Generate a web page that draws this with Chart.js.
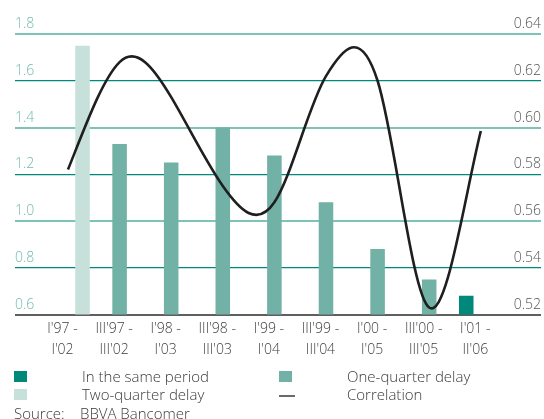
<!DOCTYPE html>
<html>
<head>
<meta charset="utf-8">
<script src="https://cdn.jsdelivr.net/npm/chart.js@4/dist/chart.umd.min.js"></script>
<style>
  html, body { margin: 0; padding: 0; background: #fff; }
  #wrap { position: relative; width: 544px; height: 419px; overflow: hidden;
          font-family: "Open Sans", "Liberation Sans", sans-serif; font-weight: 300; }
  #chart { position: absolute; left: 0; top: 0; }
  .lg { position: absolute; font-size: 15px; line-height: 18px; color: #3a3a3a; white-space: nowrap; }
  .sw { position: absolute; width: 13px; height: 11px; }
  .dash { position: absolute; width: 16px; height: 2px; background: #6a6a6a; }
</style>
</head>
<body>
<div id="wrap">
  <canvas id="chart" width="544" height="419"></canvas>

  <div class="sw" style="left:14px;top:371px;background:#00897b"></div>
  <div class="lg" style="left:82px;top:367px">In the same period</div>
  <div class="sw" style="left:279px;top:371px;background:#72b1a5"></div>
  <div class="lg" style="left:347px;top:367px">One-quarter delay</div>

  <div class="sw" style="left:14px;top:389px;background:#c8e0da"></div>
  <div class="lg" style="left:82px;top:385px">Two-quarter delay</div>
  <div class="dash" style="left:279px;top:395px"></div>
  <div class="lg" style="left:347px;top:385px">Correlation</div>

  <div class="lg" style="left:14px;top:404px">Source:</div>
  <div class="lg" style="left:80px;top:404px">BBVA Bancomer</div>
</div>

<script>
// Periods compared (one column per window)
const periods = [
  ["I'97 -", "I'02"], ["III'97 -", "III'02"], ["I'98 -", "I'03"],
  ["III'98 -", "III'03"], ["I'99 -", "I'04"], ["III'99 -", "III'04"],
  ["I'00 -", "I'05"], ["III'00 -", "III'05"], ["I'01 -", "II'06"]
];

// Elasticity by lag (left axis)
const samePeriod      = [null, null, null, null, null, null, null, null, 0.68];
const oneQuarterDelay = [null, 1.33, 1.25, 1.40, 1.28, 1.08, 0.88, 0.75, null];
const twoQuarterDelay = [1.75, null, null, null, null, null, null, null, null];

// Correlation (right axis)
const correlation = [0.582, 0.628, 0.613, 0.575, 0.568, 0.622, 0.620, 0.523, 0.5985];

// Axis ticks
const leftTicks  = [0.6, 0.8, 1.0, 1.2, 1.4, 1.6, 1.8];
const rightTicks = [0.52, 0.54, 0.56, 0.58, 0.60, 0.62, 0.64];

const FONT = '"Open Sans", "Liberation Sans", sans-serif';
const LIGHT_GRID = '#7dc3b8';
const DARK_GRID = '#008a7b';
const AXIS_GREY = '#5f5f5f';

const toXY = arr => arr.map((v, i) => ({ x: i, y: v }));

// Smooth the correlation curve with a cardinal spline (steeper tangents than Catmull-Rom)
const INNER_TANGENT = 0.7;
const END_TANGENT = 1.2;
const smoothCurve = {
  id: 'smoothCurve',
  beforeDatasetDraw(chart, args) {
    const meta = args.meta;
    if (meta.type !== 'line') return;
    const pts = meta.data;
    const n = pts.length;
    for (let i = 0; i < n; i++) {
      const p = pts[i];
      const a = pts[Math.max(i - 1, 0)];
      const b = pts[Math.min(i + 1, n - 1)];
      const isEnd = (i === 0 || i === n - 1);
      const mx = isEnd ? (b.x - a.x) : (b.x - a.x) / 2;
      const my = (isEnd ? END_TANGENT : INNER_TANGENT) * (b.y - a.y);
      p.cp1x = p.x - mx / 3; p.cp1y = p.y - my / 3;
      p.cp2x = p.x + mx / 3; p.cp2y = p.y + my / 3;
    }
    meta.dataset._pointsUpdated = true;
    meta.dataset._path = undefined;
  }
};

new Chart(document.getElementById('chart'), {
  data: {
    datasets: [
      { type: 'line', label: 'Correlation', data: toXY(correlation), yAxisID: 'y2',
        borderColor: '#1f1f1f', borderWidth: 2.6, pointRadius: 0, tension: 0.4, order: 0 },
      { type: 'bar', label: 'In the same period', data: toXY(samePeriod), yAxisID: 'y',
        backgroundColor: '#00897b', order: 1 },
      { type: 'bar', label: 'One-quarter delay', data: toXY(oneQuarterDelay), yAxisID: 'y',
        backgroundColor: '#72b1a5', order: 1 },
      { type: 'bar', label: 'Two-quarter delay', data: toXY(twoQuarterDelay), yAxisID: 'y',
        backgroundColor: '#c8e0da', order: 1 }
    ]
  },
  options: {
    responsive: false,
    animation: false,
    devicePixelRatio: 1,
    events: [],
    layout: { padding: { left: 15, right: 3, top: 34, bottom: 55 } },
    datasets: { bar: { categoryPercentage: 0.845, barPercentage: 1.0 } },
    plugins: { legend: { display: false }, tooltip: { enabled: false } },
    scales: {
      x: {
        type: 'linear',
        offset: false,
        min: -1.027, max: 9.167,
        grid: { display: false, drawTicks: false, offset: false },
        border: { display: false },
        afterBuildTicks: s => { s.ticks = periods.map((_, i) => ({ value: i })); },
        ticks: {
          callback: v => periods[v],
          labelOffset: -5.5, padding: 4, maxRotation: 0, autoSkip: false,
          color: '#3d3d3d', font: { family: FONT, size: 14, weight: '300', lineHeight: 1.48 }
        }
      },
      y: {
        position: 'left', min: 0.6, max: 1.8,
        afterBuildTicks: s => { s.ticks = leftTicks.map(v => ({ value: v })); },
        grid: {
          drawTicks: false,
          color: c => c.index === 0 ? AXIS_GREY : (c.index % 2 === 0 ? LIGHT_GRID : DARK_GRID),
          lineWidth: c => c.index === 0 ? 2 : (c.index % 2 === 0 ? 2 : 1.2)
        },
        border: { display: false },
        ticks: {
          mirror: true, padding: 0, labelOffset: -10,
          callback: v => v.toFixed(1),
          color: '#6fbbad', font: { family: FONT, size: 14, weight: '300' }
        }
      },
      y2: {
        position: 'right', min: 0.52, max: 0.64,
        afterBuildTicks: s => { s.ticks = rightTicks.map(v => ({ value: v })); },
        grid: { display: false, drawTicks: false },
        border: { display: false },
        ticks: {
          mirror: true, padding: 0, labelOffset: -10,
          callback: v => v.toFixed(2),
          color: '#555555', font: { family: FONT, size: 14, weight: '300' }
        }
      }
    }
  },
  plugins: [smoothCurve]
});
</script>
</body>
</html>
